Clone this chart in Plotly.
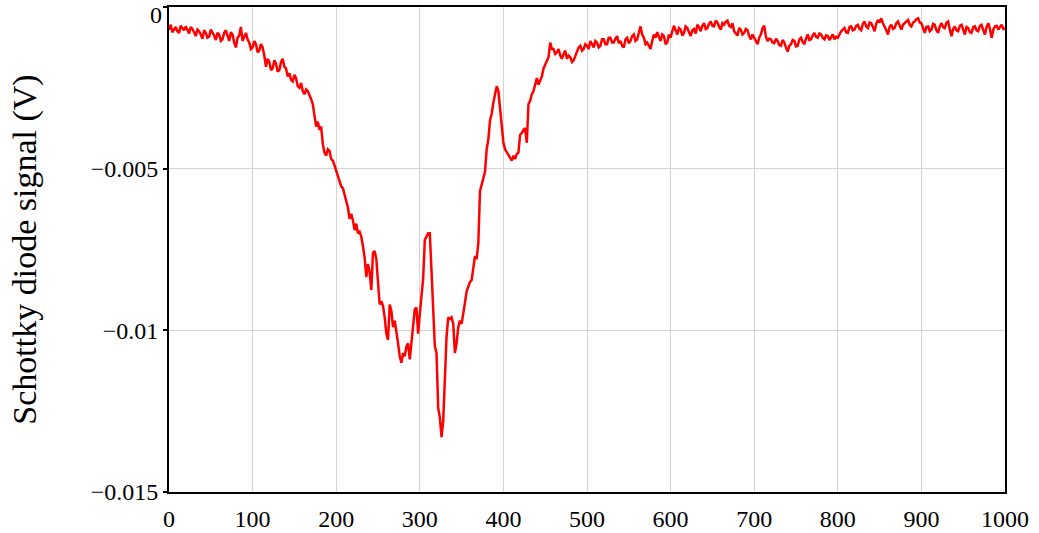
import plotly.graph_objects as go

# Sample index (x) and Schottky diode signal in mV (converted to V below)
x_a = list(range(0, 204, 2))
y_a_mV = [-0.70, -0.55, -0.78, -0.68, -0.62, -0.75, -0.80, -0.58, -0.66, -0.72,
          -0.60, -0.70, -0.82, -0.62, -0.68, -0.78, -0.90, -0.70, -0.75, -0.85,
          -0.98, -0.72, -0.80, -0.95, -0.92, -0.70, -0.78, -0.88, -1.02, -0.80,
          -0.85, -1.05, -1.00, -0.80, -0.72, -0.90, -1.05, -0.78, -0.85, -1.10,
          -1.25, -0.95, -0.88, -0.62, -1.05, -0.92, -0.80, -1.00, -1.10, -1.30,
          -1.25, -1.05, -1.15, -1.40, -1.35, -1.15, -1.25, -1.50, -1.85, -1.60,
          -1.70, -1.95, -1.90, -1.65, -1.75, -2.00, -1.95, -1.70, -1.60, -1.85,
          -1.90, -2.15, -2.05, -2.25, -2.30, -2.10, -2.20, -2.45, -2.50, -2.35,
          -2.60, -2.70, -2.55, -2.60, -2.70, -2.85, -3.00, -3.40, -3.70, -3.55,
          -3.80, -3.70, -4.25, -4.50, -4.60, -4.40, -4.45, -4.70, -4.75, -4.90,
          -5.05, -5.20]

x_b = list(range(204, 460, 2))
y_b_mV = [-5.40, -5.55, -5.60, -5.80, -5.95, -6.20, -6.55, -6.40, -6.60, -6.90,
          -6.70, -7.00, -6.95, -7.10, -7.40, -7.75, -8.35, -7.95, -8.20, -8.75,
          -7.60, -7.55, -7.80, -8.50, -9.20, -9.10, -9.25, -9.60, -10.10, -10.30,
          -9.20, -9.40, -9.90, -9.70, -10.00, -10.40, -10.80, -11.00, -10.70, -10.80,
          -10.50, -10.40, -10.90, -10.30, -9.90, -9.35, -9.30, -10.10, -9.50, -8.80,
          -8.40, -7.20, -7.10, -7.00, -7.00, -8.10, -9.50, -10.50, -10.70, -12.40,
          -12.70, -13.30, -12.80, -11.50, -10.20, -9.60, -9.65, -9.60, -9.80, -10.70,
          -10.40, -9.90, -9.70, -9.80, -9.40, -9.15, -8.80, -8.65, -8.50, -8.45,
          -8.00, -7.70, -7.80, -7.30, -5.70, -5.50, -5.30, -5.10, -4.40, -4.10,
          -3.50, -3.30, -2.95, -2.70, -2.45, -2.60, -3.20, -3.70, -4.20, -4.40,
          -4.50, -4.60, -4.70, -4.75, -4.60, -4.70, -4.55, -4.50, -3.95, -3.90,
          -3.80, -3.75, -4.20, -3.00, -2.90, -2.70, -2.60, -2.35, -2.20, -2.40,
          -2.30, -2.15, -1.90, -1.80, -1.65, -1.55, -1.10, -1.30]

x_c = list(range(460, 1002, 2))
y_c_mV = [-1.30, -1.45, -1.40, -1.30, -1.50, -1.60, -1.45, -1.35, -1.60, -1.50,
          -1.55, -1.70, -1.65, -1.50, -1.40, -1.25, -1.20, -1.35, -1.30, -1.15,
          -1.20, -1.30, -1.05, -1.15, -1.25, -1.05, -1.10, -1.25, -1.20, -1.00,
          -1.00, -1.15, -1.15, -0.95, -0.95, -1.10, -1.10, -0.98, -0.90, -1.12,
          -1.05, -1.20, -1.25, -1.00, -0.95, -1.12, -1.05, -0.90, -0.85, -1.05,
          -1.00, -0.80, -0.60, -0.85, -0.95, -1.15, -1.10, -1.20, -1.30, -1.05,
          -0.85, -0.95, -0.78, -0.92, -1.05, -0.85, -0.90, -1.15, -1.10, -0.85,
          -0.95, -0.75, -0.58, -0.72, -0.85, -0.65, -0.70, -0.88, -0.80, -0.60,
          -0.65, -0.78, -0.90, -0.72, -0.68, -0.82, -0.55, -0.62, -0.75, -0.58,
          -0.50, -0.68, -0.65, -0.52, -0.45, -0.58, -0.60, -0.42, -0.48, -0.62,
          -0.70, -0.50, -0.55, -0.45, -0.42, -0.58, -0.62, -0.50, -0.75, -0.82,
          -0.88, -0.65, -0.70, -0.85, -0.80, -0.68, -0.72, -0.90, -1.00, -0.85,
          -0.95, -1.08, -1.15, -0.95, -0.85, -0.65, -0.58, -0.92, -1.05, -0.98,
          -1.00, -1.10, -1.12, -0.98, -1.05, -1.18, -1.20, -1.02, -1.10, -1.25,
          -1.38, -1.20, -1.15, -1.02, -1.05, -1.22, -1.20, -1.00, -0.95, -1.08,
          -1.15, -0.98, -0.85, -1.02, -1.00, -0.88, -0.80, -0.92, -0.95, -0.82,
          -0.85, -0.95, -1.00, -0.88, -0.90, -1.02, -0.95, -0.85, -1.00, -0.92,
          -0.95, -0.82, -0.75, -0.70, -0.65, -0.78, -0.80, -0.62, -0.60, -0.72,
          -0.70, -0.58, -0.55, -0.68, -0.72, -0.52, -0.45, -0.60, -0.65, -0.48,
          -0.50, -0.62, -0.75, -0.52, -0.40, -0.48, -0.35, -0.50, -0.60, -0.72,
          -0.85, -0.62, -0.55, -0.68, -0.65, -0.50, -0.45, -0.60, -0.70, -0.55,
          -0.50, -0.42, -0.40, -0.55, -0.60, -0.48, -0.45, -0.38, -0.35, -0.48,
          -0.50, -0.65, -0.80, -0.62, -0.60, -0.75, -0.70, -0.52, -0.55, -0.72,
          -0.80, -0.60, -0.50, -0.62, -0.65, -0.48, -0.45, -0.70, -0.90, -0.68,
          -0.60, -0.72, -0.75, -0.58, -0.55, -0.70, -0.85, -0.62, -0.65, -0.78,
          -0.80, -0.62, -0.60, -0.72, -0.75, -0.58, -0.55, -0.72, -0.85, -0.62,
          -0.50, -0.68, -0.95, -0.70, -0.60, -0.58, -0.70, -0.62, -0.55, -0.68,
          -0.65]

assert len(x_a) == len(y_a_mV), (len(x_a), len(y_a_mV))
assert len(x_b) == len(y_b_mV), (len(x_b), len(y_b_mV))
assert len(x_c) == len(y_c_mV), (len(x_c), len(y_c_mV))

x_vals = x_a + x_b + x_c
y_vals = [v / 1000.0 for v in (y_a_mV + y_b_mV + y_c_mV)]

x_ticks = [0, 100, 200, 300, 400, 500, 600, 700, 800, 900, 1000]
y_ticks = [0, -0.005, -0.01, -0.015]
y_tick_text = ["", "\u22120.005", "\u22120.01", "\u22120.015"]

fig = go.Figure()
fig.add_trace(go.Scatter(x=x_vals, y=y_vals, mode="lines",
                         line=dict(color="#ff0000", width=2.5), showlegend=False))

font_family = "Liberation Serif, Times New Roman, serif"
fig.update_layout(
    width=1039, height=533,
    margin=dict(l=169, r=34, t=7, b=41, autoexpand=False),
    paper_bgcolor="white", plot_bgcolor="white",
    font=dict(family=font_family, color="black", size=24),
)
fig.update_xaxes(range=[0, 1000], tickvals=x_ticks, showgrid=True,
                 gridcolor="#d3d3d3", gridwidth=1, zeroline=False,
                 showline=True, linecolor="black", linewidth=2, mirror=True,
                 ticks="", ticklabelstandoff=4, automargin=False,
                 tickfont=dict(family=font_family, size=24))
fig.update_yaxes(range=[-0.015, 0], tickvals=y_ticks, ticktext=y_tick_text,
                 showgrid=True,
                 gridcolor="#d3d3d3", gridwidth=1, zeroline=False,
                 showline=True, linecolor="black", linewidth=2, mirror=True,
                 ticks="outside", ticklen=4, tickcolor="black", tickwidth=2,
                 ticklabelstandoff=0, automargin=False,
                 tickfont=dict(family=font_family, size=24),
                 title=dict(text="Schottky diode signal (V)",
                            font=dict(family=font_family, size=34), standoff=44))
# label for the top tick, kept inside the page like the original
fig.add_annotation(text="0", xref="paper", x=0, yref="y", y=0,
                   xanchor="right", yanchor="middle", xshift=-5, yshift=-8,
                   showarrow=False, font=dict(family=font_family, size=24))

fig.write_html("out.html")
